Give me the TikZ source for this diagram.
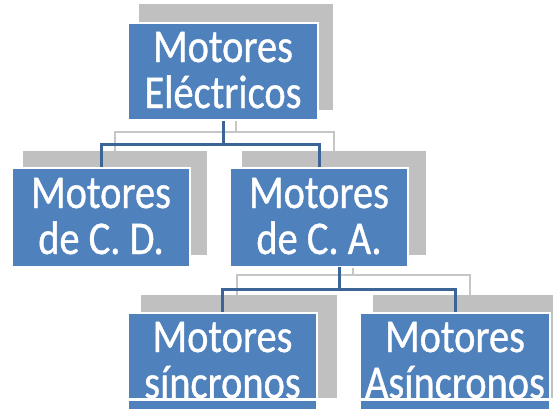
\documentclass[tikz,border=0pt]{standalone}
\usepackage{fontspec}
\setmainfont{Carlito}[FakeStretch=0.86,FakeBold=0.8]
\definecolor{boxblue}{HTML}{4F81BD}
\definecolor{shadegray}{HTML}{C0C0C0}
\definecolor{linkblue}{HTML}{3B6597}
\definecolor{linkgray}{HTML}{C6C6C6}
\newcommand\boxfont{\fontsize{47}{46}\selectfont}
\newcommand\firstln{\rule{0pt}{34pt}}
\newcommand\lastln{\rule[-7pt]{0pt}{7pt}}
\begin{document}
\begin{tikzpicture}[x=1pt,y=-1pt,
  bluebox/.style={rectangle, fill=boxblue, draw=white, line width=2pt,
    text=white, font=\boxfont, align=center, inner sep=0pt},
  shadebox/.style={rectangle, fill=shadegray, inner sep=0pt},
  link/.style={draw=linkblue, line width=3pt},
  shadelink/.style={draw=linkgray, line width=2pt}]
\useasboundingbox[fill=white] (0,0) rectangle (556,410);

% grey back layer
\node[shadebox, minimum width=194pt, minimum height=106pt] (gTop) at (236,57) {};
\node[shadebox, minimum width=184pt, minimum height=104pt] (gCD) at (115,203) {};
\node[shadebox, minimum width=184pt, minimum height=104pt] (gCA) at (334,203) {};
\node[shadebox, minimum width=196pt, minimum height=103pt] (gSyn) at (239,346.5) {};
\node[shadebox, minimum width=180pt, minimum height=103pt] (gAsyn) at (463,346.5) {};

\coordinate (gbus1) at (0,132);
\coordinate (gbus2) at (0,275);
\coordinate (gCAout) at (353,255);
\draw[shadelink] (gTop.south) -- (gTop.south |- gbus1) -| (gCD.north);
\draw[shadelink] (gTop.south |- gbus1) -| (gCA.north);
\draw[shadelink] (gCAout) -- (gCAout |- gbus2) -| ([xshift=-2pt]gSyn.north);
\draw[shadelink] (gCAout |- gbus2) -| ([xshift=7pt]gAsyn.north);

% blue front layer
\coordinate (bus1) at (0,144);
\coordinate (bus2) at (0,289);
\coordinate (CAout) at (339,267);

\node[bluebox, minimum width=190pt, minimum height=97pt] (top) at (223,71.5)
  {\firstln Motores\\ Eléctricos\lastln};
\node[bluebox, minimum width=178pt, minimum height=99pt] (cd) at (101,217.5)
  {\firstln Motores\\ de C. D.\lastln};
\node[bluebox, minimum width=178pt, minimum height=99pt] (ca) at (319,217.5)
  {\firstln Motores\\ de C. A.\lastln};
\node[bluebox, minimum width=189pt, minimum height=97pt] (syn) at (222.5,361.5)
  {\firstln Motores\\ síncronos\lastln};
\node[bluebox, minimum width=190pt, minimum height=97pt] (asyn) at (455,361.5)
  {\firstln Motores\\ Asíncronos\lastln};

\draw[link] (top.south) -- (top.south |- bus1) -| (cd.north);
\draw[link] (top.south |- bus1) -| (ca.north);
\draw[link] (CAout) -- (CAout |- bus2) -| (syn.north);
\draw[link] (CAout |- bus2) -| (asyn.north);

% thin light band across the lower boxes
\fill[white] (0,398) rectangle (556,400.5);
\end{tikzpicture}
\end{document}
